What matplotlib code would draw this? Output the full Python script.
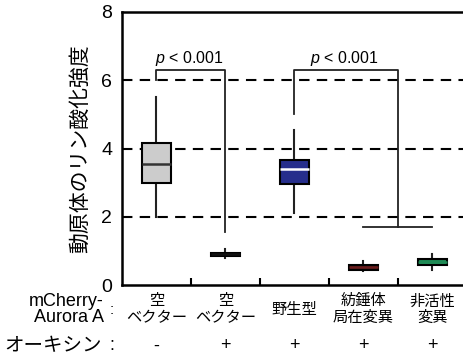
import matplotlib
matplotlib.use('Agg')
import matplotlib.pyplot as plt

plt.rcParams['font.family'] = ['Liberation Sans', 'Noto Sans CJK JP', 'DejaVu Sans']
plt.rcParams['mathtext.fontset'] = 'custom'
plt.rcParams['mathtext.it'] = 'Liberation Sans:italic'
plt.rcParams['mathtext.rm'] = 'Liberation Sans'

# box statistics
whislo = [2.0, 0.80, 2.10, 0.40, 0.45]
q1 = [3.00, 0.85, 2.95, 0.45, 0.60]
med = [3.55, 0.90, 3.40, 0.52, 0.67]
q3 = [4.15, 0.95, 3.65, 0.60, 0.75]
whishi = [5.50, 1.05, 4.55, 0.70, 0.90]
face_colors = ['#cccccc', '#4a4a4a', '#262e8c', '#2b0f0f', '#1f8a55']
median_colors = ['#333333', '#111111', '#ffffff', '#6a1c1c', '#1f8a55']

construct = ['空\nベクター', '空\nベクター', '野生型', '紡錘体\n局在変異', '非活性\n変異']
auxin = ['-', '+', '+', '+', '+']
yticks = [0, 2, 4, 6, 8]

# significance brackets: (left x, right x, top y, left foot, right foot)
brackets = [(0, 1, 6.3, 6.0, 1.55), (2, 3.5, 6.3, 5.0, 1.7)]
p_label = '$p$ < 0.001'

fig = plt.figure(figsize=(4.64, 3.59), dpi=100)
ax = fig.add_axes([122 / 464, 74 / 359, 345 / 464, 273 / 359])

stats = []
for i in range(len(med)):
    stats.append({'whislo': whislo[i], 'q1': q1[i], 'med': med[i],
                  'q3': q3[i], 'whishi': whishi[i], 'fliers': []})
bp = ax.bxp(stats, positions=range(len(stats)), widths=0.42, patch_artist=True,
            showcaps=False, manage_ticks=False,
            boxprops=dict(linewidth=1.5, edgecolor='black'),
            whiskerprops=dict(linewidth=1.5, color='#222222'),
            medianprops=dict(linewidth=1.8))
for patch, fc in zip(bp['boxes'], face_colors):
    patch.set_facecolor(fc)
for line, mc in zip(bp['medians'], median_colors):
    line.set_color(mc)
# the boxes sit above the whisker lines
for patch in bp['boxes']:
    patch.set_zorder(3)
for line in bp['medians']:
    line.set_zorder(4)

for y in [2, 4, 6]:
    ax.axhline(y, color='black', lw=1.5, ls=(0, (5, 3.5)), zorder=1)

for x0, x1, top, foot0, foot1 in brackets:
    ax.plot([x0, x0, x1, x1], [foot0, top, top, foot1], color='#222222', lw=1.3, zorder=2)
    ax.text((x0 + x1) / 2 - 0.02, 6.65, p_label, ha='center', va='center',
            fontsize=11.5)
ax.plot([3, 4], [1.7, 1.7], color='#222222', lw=1.3, zorder=2)

ax.set_xlim(-0.5, 4.5)
ax.set_ylim(0, 8)
ax.set_yticks(yticks)
ax.set_yticklabels([str(t) for t in yticks], fontsize=14)
ax.set_xticks([0.5, 1.5, 2.5, 3.5])
ax.set_xticklabels([])
ax.tick_params(axis='x', direction='in', length=5, width=1.5)
ax.tick_params(axis='y', length=0, pad=7)
for s in ['left', 'top', 'bottom', 'right']:
    ax.spines[s].set_linewidth(1.8)

ax.set_ylabel('動原体のリン酸化強度', fontsize=15, labelpad=8)

# category table under the axis
trans = ax.get_xaxis_transform()
jp = ['Noto Sans CJK JP', 'DejaVu Sans']
for i, name in enumerate(construct):
    ax.text(i, -0.088, name, transform=trans, ha='center', va='center',
            fontsize=11, family=jp, linespacing=0.95)
    ax.text(i, -0.223, auxin[i], transform=trans, ha='center', va='center',
            fontsize=13)
fig.text(104 / 464, 1 - 301 / 359, 'mCherry-', ha='right', va='center', fontsize=13)
fig.text(104 / 464, 1 - 318 / 359, 'Aurora A', ha='right', va='center', fontsize=13)
fig.text(112 / 464, 1 - 310 / 359, ':', ha='center', va='center', fontsize=11)
fig.text(102 / 464, 1 - 346 / 359, 'オーキシン', ha='right', va='center',
         fontsize=14, family=jp)
fig.text(112 / 464, 1 - 346 / 359, ':', ha='center', va='center', fontsize=13)

fig.savefig('out.png', dpi=100)
